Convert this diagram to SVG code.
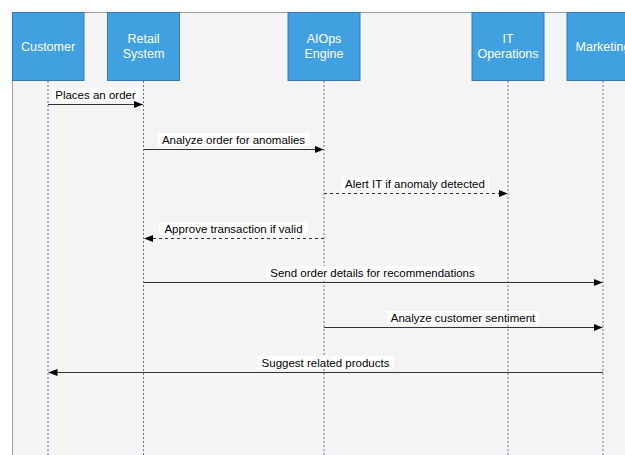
<svg xmlns="http://www.w3.org/2000/svg" width="625" height="455" viewBox="0 0 625 455">
<style>
.actor rect{fill:#41a0e0;stroke:#3a78b0;stroke-width:1}
.actor text{fill:#ffffff;font-family:"Liberation Sans",Arial,sans-serif;font-size:12.5px;text-anchor:middle}
.life{stroke:#4f7fae;stroke-width:1;stroke-dasharray:2 2;fill:none}
.msg{stroke:#333333;stroke-width:1.2;fill:none}
.dash{stroke-dasharray:3 3}
.lbg{fill:#ffffff}
.lbl{fill:#000000;font-family:"Liberation Sans",Arial,sans-serif;font-size:11.5px;text-anchor:middle}
</style>
<defs>
<marker id="ah" viewBox="0 0 10 10" refX="10" refY="5" markerWidth="9" markerHeight="9" markerUnits="userSpaceOnUse" orient="auto">
<path d="M0,1 L10,5 L0,9 Z" fill="#000000"/>
</marker>
</defs>
<rect x="0" y="0" width="625" height="455" fill="#ffffff"/>
<rect x="12.5" y="12.5" width="640" height="460" fill="#f4f4f4" stroke="#a0a0a0" stroke-width="1"/>
<g id="lifelines">
<line class="life" x1="48" y1="81" x2="48" y2="455"/>
<line class="life" x1="143.5" y1="81" x2="143.5" y2="455"/>
<line class="life" x1="324" y1="81" x2="324" y2="455"/>
<line class="life" x1="508" y1="81" x2="508" y2="455"/>
<line class="life" x1="603" y1="81" x2="603" y2="455"/>
</g>
<g id="customer" class="actor"><rect x="12.5" y="12.5" width="71.5" height="68"/><text x="48" y="50.5">Customer</text></g>
<g id="retail" class="actor"><rect x="107.5" y="12.5" width="72" height="68"/><text x="143.5" y="43">Retail</text><text x="143.5" y="58">System</text></g>
<g id="aiops" class="actor"><rect x="288" y="12.5" width="72" height="68"/><text x="324" y="43">AIOps</text><text x="324" y="58">Engine</text></g>
<g id="itops" class="actor"><rect x="472" y="12.5" width="72" height="68"/><text x="508" y="43">IT</text><text x="508" y="58">Operations</text></g>
<g id="marketing" class="actor"><rect x="567" y="12.5" width="72" height="68"/><text x="603" y="50.5">Marketing</text></g>
<g id="connectors">
<line class="msg" x1="48" y1="104.5" x2="143" y2="104.5" marker-end="url(#ah)"/>
<rect class="lbg" x="52" y="88" width="87" height="13"/>
<text class="lbl" x="95.5" y="98.5">Places an order</text>

<line class="msg" x1="143.5" y1="149.5" x2="323.5" y2="149.5" marker-end="url(#ah)"/>
<rect class="lbg" x="158" y="133" width="152" height="13"/>
<text class="lbl" x="233.5" y="143.5">Analyze order for anomalies</text>

<line class="msg dash" x1="324" y1="193.5" x2="507.5" y2="193.5" marker-end="url(#ah)"/>
<rect class="lbg" x="341" y="177" width="148" height="13"/>
<text class="lbl" x="415" y="187.5">Alert IT if anomaly detected</text>

<line class="msg dash" x1="324" y1="238.5" x2="144" y2="238.5" marker-end="url(#ah)"/>
<rect class="lbg" x="159" y="222" width="149" height="13"/>
<text class="lbl" x="233.5" y="232.5">Approve transaction if valid</text>

<line class="msg" x1="143.5" y1="282.5" x2="602.5" y2="282.5" marker-end="url(#ah)"/>
<rect class="lbg" x="266" y="266" width="213" height="13"/>
<text class="lbl" x="372.5" y="276.5">Send order details for recommendations</text>

<line class="msg" x1="324" y1="327.5" x2="602.5" y2="327.5" marker-end="url(#ah)"/>
<rect class="lbg" x="387" y="311" width="152" height="13"/>
<text class="lbl" x="463" y="321.5">Analyze customer sentiment</text>

<line class="msg" x1="603" y1="372.5" x2="48.5" y2="372.5" marker-end="url(#ah)"/>
<rect class="lbg" x="257" y="356" width="137" height="13"/>
<text class="lbl" x="325.5" y="366.5">Suggest related products</text>
</g>
</svg>
